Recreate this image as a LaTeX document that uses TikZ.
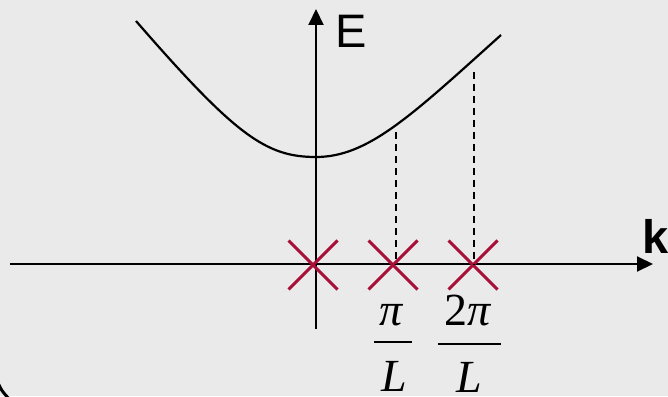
\documentclass[tikz,border=0pt]{standalone}
\usepackage{fontspec}
\setmainfont{Liberation Serif}
\newfontfamily\axisfont{Liberation Sans}
\usetikzlibrary{arrows.meta,shapes.misc}
\definecolor{slidegray}{RGB}{234,234,234}
\definecolor{markred}{RGB}{168,16,56}

\begin{document}
\begin{tikzpicture}[x=1pt,y=-1pt,
    axis/.style={line width=2pt,-{Triangle[length=16pt,width=15pt]}},
    band/.style={line width=2.2pt},
    drop/.style={line width=1.7pt,dash pattern=on 7pt off 5pt},
    xmark/.style={cross out,draw=markred,line width=3pt,minimum size=46pt,inner sep=0pt},
    axlabel/.style={font=\axisfont\fontsize{47pt}{52pt}\selectfont,inner sep=0pt,anchor=base west},
    fracpart/.style={font=\fontsize{46pt}{50pt}\selectfont\itshape,inner sep=0pt,text depth=0pt,anchor=base}]
            \fill[slidegray] (0,0) rectangle (668,396);
            \useasboundingbox (0,0) rectangle (668,396);
            \draw[line width=3pt] (-4,378) .. controls (1,390) .. (10,400);

            % axes
            \coordinate (kstart) at (10,264);
            \coordinate (kend) at (653,264);
            \coordinate (estart) at (316,329);
            \coordinate (eend) at (316,9);
            \draw[axis] (kstart) -- (kend);
            \draw[axis] (estart) -- (eend);
            \node[axlabel] (elabel) at (335,48) {E};
            \node[axlabel] (klabel) at (642,253) {\bfseries k};

            % dispersion
            \coordinate (bmin) at (316,157);
            \draw[band] (136,21) .. controls (236,136) and (266,157) .. (bmin)
                .. controls (368,157) and (411,116) .. (501,35);

            % allowed k
            \node[xmark] (x0) at (313,265) {};
            \node[xmark] (x1) at (393,265) {};
            \node[xmark] (x2) at (473,265) {};
            \coordinate (c1) at (396,132);
            \coordinate (c2) at (474,72);
            \draw[drop] (c1) -- (c1 |- x1);
            \draw[drop] (c2) -- (c2 |- x2);

            % labels
            \node[fracpart] (n1) at (391,325) {π};
            \node[fracpart] (d1) at (394,391) {L};
            \node[fracpart] (n2) at (468,325) {\upshape 2\itshape π};
            \node[fracpart] (d2) at (469,392) {L};
            \draw[line width=2pt] (374,342) -- (412,342);
            \draw[line width=2pt] (438,344) -- (501,344);
        \end{tikzpicture}
\end{document}
